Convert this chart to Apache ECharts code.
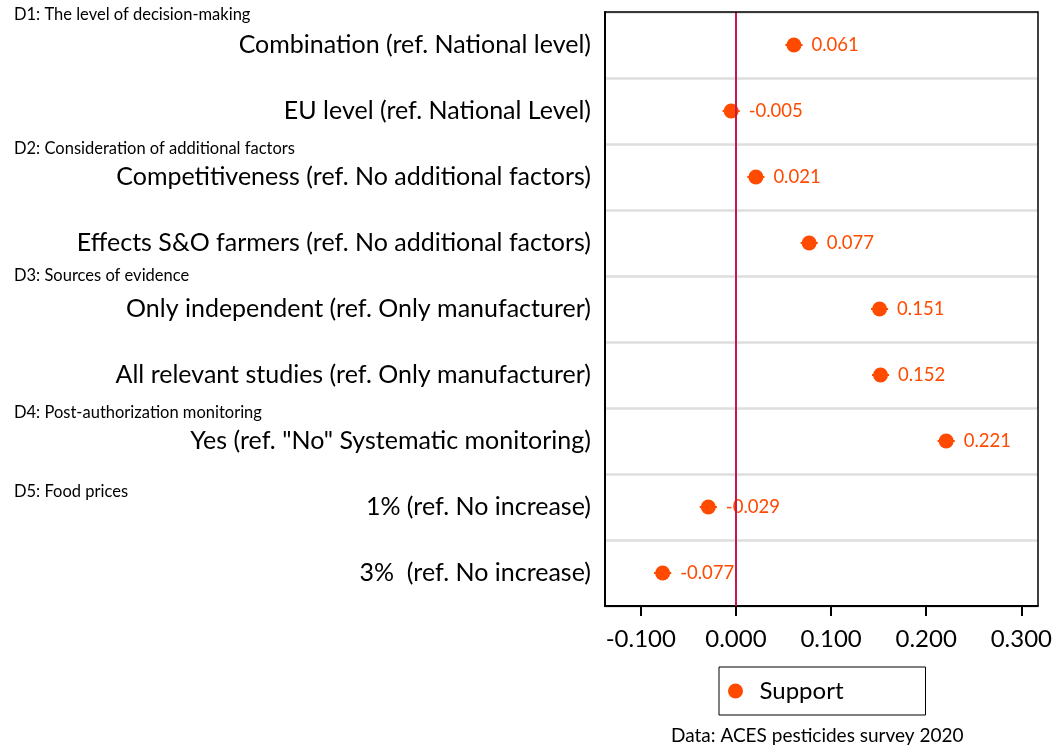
<!DOCTYPE html>
<html>
<head>
<meta charset="utf-8">
<script src="https://cdn.jsdelivr.net/npm/echarts@6/dist/echarts.min.js"></script>
<style>
  html, body { margin: 0; padding: 0; background: #fff; }
  #chart { width: 1055px; height: 747px; }
</style>
</head>
<body>
<div id="chart"></div>
<script>
// coefficients
const categories = [
  "Combination (ref. National level)",
  "EU level (ref. National Level)",
  "Competitiveness (ref. No additional factors)",
  "Effects S&O farmers (ref. No additional factors)",
  "Only independent (ref. Only manufacturer)",
  "All relevant studies (ref. Only manufacturer)",
  "Yes (ref. \"No\" Systematic monitoring)",
  "1% (ref. No increase)",
  "3%  (ref. No increase)"
];
const support = [0.061, -0.005, 0.021, 0.077, 0.151, 0.152, 0.221, -0.029, -0.077];
// confidence interval ends (short whiskers)
const lower = [0.052, -0.014, 0.012, 0.068, 0.142, 0.143, 0.212, -0.038, -0.086];
const upper = [0.070, 0.004, 0.030, 0.086, 0.160, 0.161, 0.230, -0.020, -0.068];
const xTicks = [-0.1, 0, 0.1, 0.2, 0.3];
const groups = [
  { text: "D1: The level of decision-making", top: 6 },
  { text: "D2: Consideration of additional factors", top: 140 },
  { text: "D3: Sources of evidence", top: 267 },
  { text: "D4: Post-authorization monitoring", top: 404 },
  { text: "D5: Food prices", top: 483 }
];

const font = "Lato";
const orange = "#FF4A00";

const chart = echarts.init(document.getElementById("chart"));
chart.setOption({
  animation: false,
  textStyle: { fontFamily: font },
  title: groups.map(g => ({
    text: g.text,
    left: 14,
    top: g.top,
    padding: 0,
    textStyle: { fontFamily: font, fontSize: 16.5, fontWeight: "normal", color: "#000" }
  })).concat([{
    text: "Data: ACES pesticides survey 2020",
    left: 671,
    top: 726,
    padding: 0,
    textStyle: { fontFamily: font, fontSize: 19, fontWeight: "normal", color: "#000" }
  }]),
  legend: {
    data: ["Support"],
    left: 719,
    top: 667,
    padding: [12, 82, 12, 9],
    borderColor: "#000",
    borderWidth: 1,
    itemWidth: 30,
    itemHeight: 15,
    icon: "circle",
    textStyle: { fontFamily: font, fontSize: 24, color: "#000", padding: [0, 0, 0, 4] }
  },
  grid: { left: 605, right: 16, top: 12, bottom: 141 },
  xAxis: [{
    type: "value",
    min: -0.1376,
    max: 0.3173,
    position: "bottom",
    axisLine: { onZero: false, lineStyle: { color: "#000", width: 2 } },
    axisTick: { customValues: xTicks, length: 10, lineStyle: { color: "#000", width: 2 } },
    axisLabel: {
      customValues: xTicks,
      formatter: v => v.toFixed(3),
      fontSize: 24,
      color: "#000",
      margin: 21
    },
    splitLine: { show: false }
  }, {
    type: "value",
    min: -0.1376,
    max: 0.3173,
    position: "top",
    z: 10,
    axisLine: { onZero: false, lineStyle: { color: "#000", width: 1.5 } },
    axisTick: { show: false },
    axisLabel: { show: false },
    splitLine: { show: false }
  }],
  yAxis: [{
    type: "category",
    data: categories,
    inverse: true,
    axisLine: { onZero: false, lineStyle: { color: "#000", width: 2 } },
    axisTick: { alignWithLabel: true, length: 10, lineStyle: { color: "#000", width: 1.5 } },
    axisLabel: { fontSize: 25, color: "#000", margin: 14 },
    splitLine: { show: true, lineStyle: { color: "#DEDEDE", width: 2.5 } }
  }, {
    type: "value",
    position: "right",
    min: 0,
    max: 1,
    z: 10,
    axisLine: { show: true, onZero: false, lineStyle: { color: "#000", width: 1.5 } },
    axisTick: { show: false },
    axisLabel: { show: false },
    splitLine: { show: false }
  }],
  series: [{
    type: "custom",
    name: "ci",
    z: 3,
    data: categories.map((c, i) => [i, lower[i], upper[i]]),
    encode: { y: 0, x: [1, 2] },
    renderItem: (params, api) => {
      const a = api.coord([api.value(1), api.value(0)]);
      const b = api.coord([api.value(2), api.value(0)]);
      return {
        type: "line",
        shape: { x1: a[0], y1: a[1], x2: b[0], y2: b[1] },
        style: { stroke: orange, lineWidth: 2 }
      };
    }
  }, {
    type: "scatter",
    name: "Support",
    z: 4,
    data: support.map((v, i) => [v, categories[i]]),
    symbolSize: 15,
    itemStyle: { color: orange, opacity: 1 },
    label: {
      show: true,
      position: "right",
      distance: 10,
      formatter: p => p.value[0].toFixed(3),
      fontFamily: font,
      fontSize: 18.5,
      color: orange
    },
    markLine: {
      silent: true,
      symbol: "none",
      label: { show: false },
      lineStyle: { color: "#C8174A", width: 2, type: "solid" },
      data: [{ xAxis: 0 }]
    }
  }]
});
</script>
</body>
</html>
